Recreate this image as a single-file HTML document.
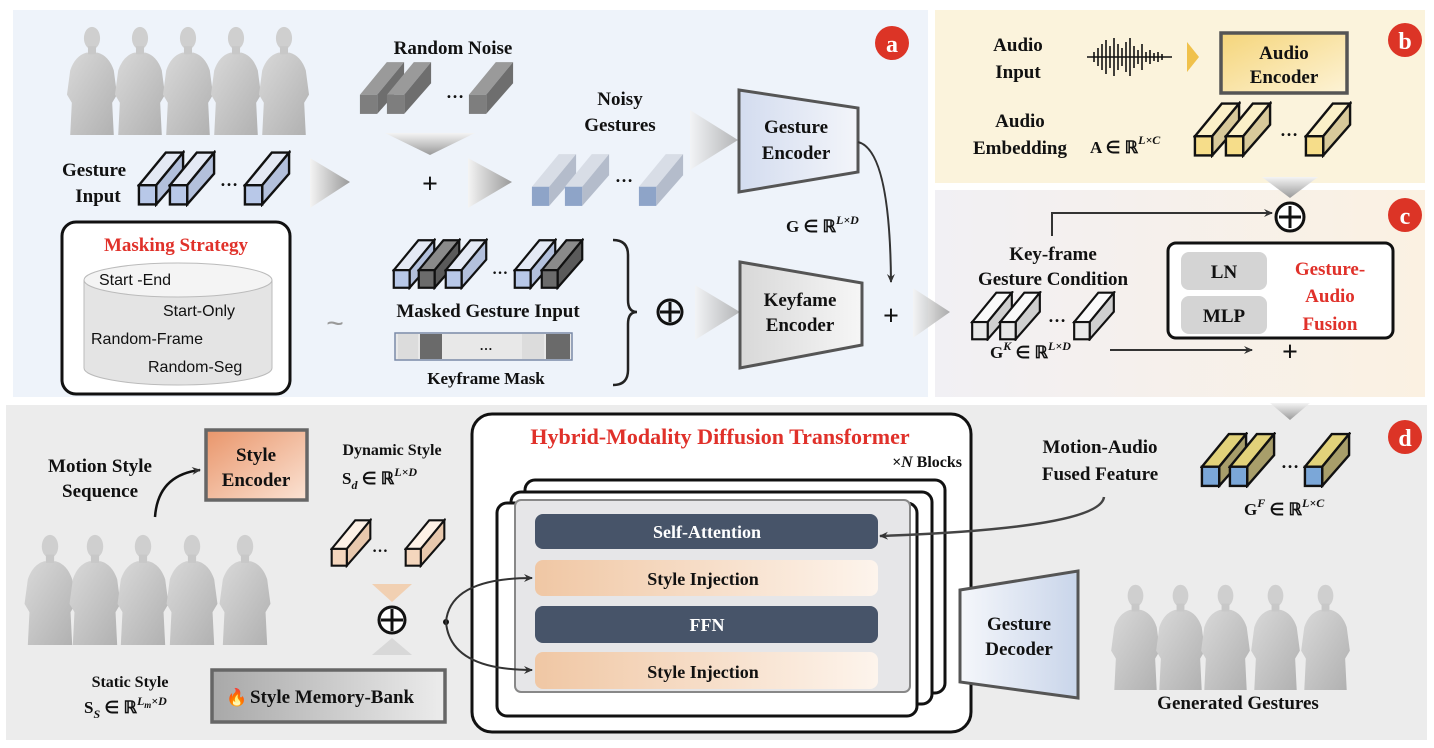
<!DOCTYPE html>
<html><head><meta charset="utf-8"><style>
html,body{margin:0;padding:0;background:#fff;}
svg{display:block;}
.t{font-family:"Liberation Serif",serif;font-weight:bold;fill:#111;}
.s{font-family:"Liberation Sans",sans-serif;fill:#111;}
.r{fill:#e0312a;}
</style></head><body>
<svg width="1434" height="748" viewBox="0 0 1434 748" xmlns="http://www.w3.org/2000/svg">
<defs>
<linearGradient id="figg" x1="0" y1="0" x2="1" y2="1"><stop offset="0" stop-color="#d9d9d9"/><stop offset="1" stop-color="#b0b0b0"/></linearGradient>
<linearGradient id="cg" x1="0" y1="0" x2="1" y2="0"><stop offset="0" stop-color="#f1f0f4"/><stop offset="1" stop-color="#fbf1e2"/></linearGradient>
<linearGradient id="ora" x1="0" y1="0" x2="1" y2="0"><stop offset="0" stop-color="#f0c7a4"/><stop offset="1" stop-color="#fdf4ec"/></linearGradient>
<linearGradient id="senc" x1="0" y1="0" x2="1" y2="1"><stop offset="0" stop-color="#e9956a"/><stop offset="1" stop-color="#fbe3d4"/></linearGradient>
<linearGradient id="aenc" x1="0" y1="0" x2="1" y2="1"><stop offset="0" stop-color="#f5d57a"/><stop offset="1" stop-color="#fdf3d6"/></linearGradient>
<linearGradient id="mem" x1="0" y1="0" x2="1" y2="0"><stop offset="0" stop-color="#a8a8a8"/><stop offset="1" stop-color="#ececec"/></linearGradient>
<linearGradient id="genc" x1="0" y1="0" x2="1" y2="0"><stop offset="0" stop-color="#d3dcef"/><stop offset="1" stop-color="#f3f5fa"/></linearGradient>
<linearGradient id="kenc" x1="0" y1="0" x2="1" y2="0"><stop offset="0" stop-color="#d8d8d8"/><stop offset="1" stop-color="#f6f6f6"/></linearGradient>
<linearGradient id="dec" x1="0" y1="0" x2="1" y2="0"><stop offset="0" stop-color="#f5f7fb"/><stop offset="1" stop-color="#c9d5ea"/></linearGradient>
<linearGradient id="tri" x1="0" y1="0" x2="1" y2="0"><stop offset="0" stop-color="#f4f4f4"/><stop offset="1" stop-color="#9a9a9a"/></linearGradient>
<linearGradient id="trid" x1="0" y1="0" x2="0" y2="1"><stop offset="0" stop-color="#f4f4f4"/><stop offset="1" stop-color="#9a9a9a"/></linearGradient>
<symbol id="fig" viewBox="0 0 70 140">
<path d="M8 140 L10 100 L4 90 L8 60 Q14 42 28 38 L42 38 Q56 42 62 60 L66 90 L60 100 L62 140 Z" fill="url(#figg)"/>
<ellipse cx="35" cy="20" rx="10" ry="14" fill="#cfcfcf"/>
<rect x="30" y="30" width="10" height="10" fill="#c8c8c8"/>
</symbol>
<symbol id="cBlue" viewBox="0 0 50 58"><path d="M2 36 L30 2 L48 2 L20 36Z" fill="#e4e9f4" stroke="#111" stroke-width="2.5"/><path d="M20 36 L48 2 L48 24 L20 56Z" fill="#b3c0dc" stroke="#111" stroke-width="2.5"/><rect x="2" y="36" width="18" height="20" fill="#b8c8e8" stroke="#111" stroke-width="2.5"/></symbol>
<symbol id="cDark" viewBox="0 0 50 58"><path d="M2 36 L30 2 L48 2 L20 36Z" fill="#8a8a8a" stroke="#111" stroke-width="2.5"/><path d="M20 36 L48 2 L48 24 L20 56Z" fill="#5a5a5a" stroke="#111" stroke-width="2.5"/><rect x="2" y="36" width="18" height="20" fill="#6b6b6b" stroke="#111" stroke-width="2.5"/></symbol>
<symbol id="cYel" viewBox="0 0 50 58"><path d="M2 36 L30 2 L48 2 L20 36Z" fill="#fbf0c8" stroke="#111" stroke-width="2.5"/><path d="M20 36 L48 2 L48 24 L20 56Z" fill="#d8c99a" stroke="#111" stroke-width="2.5"/><rect x="2" y="36" width="18" height="20" fill="#f6dd8a" stroke="#111" stroke-width="2.5"/></symbol>
<symbol id="cWhite" viewBox="0 0 50 58"><path d="M2 36 L30 2 L48 2 L20 36Z" fill="#fafafa" stroke="#111" stroke-width="2.5"/><path d="M20 36 L48 2 L48 24 L20 56Z" fill="#cfcfcf" stroke="#111" stroke-width="2.5"/><rect x="2" y="36" width="18" height="20" fill="#e8e8e8" stroke="#111" stroke-width="2.5"/></symbol>
<symbol id="cOra" viewBox="0 0 50 58"><path d="M2 36 L30 2 L48 2 L20 36Z" fill="#fdf1e6" stroke="#111" stroke-width="2.5"/><path d="M20 36 L48 2 L48 24 L20 56Z" fill="#e8c8ad" stroke="#111" stroke-width="2.5"/><rect x="2" y="36" width="18" height="20" fill="#f4d6bd" stroke="#111" stroke-width="2.5"/></symbol>
<symbol id="cFus" viewBox="0 0 50 58"><path d="M2 36 L30 2 L48 2 L20 36Z" fill="#e2d27a" stroke="#111" stroke-width="2.5"/><path d="M20 36 L48 2 L48 24 L20 56Z" fill="#a89e6a" stroke="#111" stroke-width="2.5"/><rect x="2" y="36" width="18" height="20" fill="#7ba7d8" stroke="#111" stroke-width="2.5"/></symbol>
<symbol id="cNoise" viewBox="0 0 50 58"><path d="M2 36 L30 2 L48 2 L20 36Z" fill="#9a9a9a"/><path d="M20 36 L48 2 L48 24 L20 56Z" fill="#6e6e6e"/><rect x="2" y="36" width="18" height="20" fill="#7e7e7e"/></symbol>
<symbol id="cNoisy" viewBox="0 0 50 58"><path d="M2 36 L30 2 L48 2 L20 36Z" fill="#d8dde6"/><path d="M20 36 L48 2 L48 24 L20 56Z" fill="#b4bccb"/><rect x="2" y="36" width="18" height="20" fill="#8ea4c8"/></symbol>
<marker id="ah" markerWidth="10" markerHeight="10" refX="8" refY="5" orient="auto" markerUnits="userSpaceOnUse"><path d="M0 1 L9 5 L0 9 L3 5Z" fill="#333"/></marker>
</defs>

<rect x="13" y="10" width="915" height="387" fill="#eef3fa"/>
<rect x="935" y="10" width="490" height="173" fill="#fbf3dc"/>
<rect x="935" y="190" width="490" height="207" fill="url(#cg)"/>
<rect x="6" y="405" width="1421" height="335" fill="#ececec"/>

<circle cx="892" cy="43" r="17" fill="#dc3426"/><text x="892" y="52" text-anchor="middle" class="t" style="fill:#fff;font-size:24px">a</text>
<circle cx="1405" cy="40" r="17" fill="#dc3426"/><text x="1405" y="49" text-anchor="middle" class="t" style="fill:#fff;font-size:24px">b</text>
<circle cx="1405" cy="215" r="17" fill="#dc3426"/><text x="1405" y="224" text-anchor="middle" class="t" style="fill:#fff;font-size:24px">c</text>
<circle cx="1405" cy="437" r="17" fill="#dc3426"/><text x="1405" y="446" text-anchor="middle" class="t" style="fill:#fff;font-size:24px">d</text>

<use href="#fig" x="62" y="22" width="60" height="113"/>
<use href="#fig" x="110" y="22" width="60" height="113"/>
<use href="#fig" x="158" y="22" width="60" height="113"/>
<use href="#fig" x="206" y="22" width="60" height="113"/>
<use href="#fig" x="254" y="22" width="60" height="113"/>

<text x="453" y="54" text-anchor="middle" class="t" style="font-size:19px">Random Noise</text>
<use href="#cNoise" x="358" y="60" width="48" height="56"/>
<use href="#cNoise" x="385" y="60" width="48" height="56"/>
<text x="446" y="98" class="t" style="font-size:18px">…</text>
<use href="#cNoise" x="467" y="60" width="48" height="56"/>
<path d="M385 133 L475 133 L430 155Z" fill="url(#trid)"/>

<text x="94" y="176" text-anchor="middle" class="t" style="font-size:19px">Gesture</text>
<text x="98" y="202" text-anchor="middle" class="t" style="font-size:19px">Input</text>
<use href="#cBlue" x="137" y="150" width="48" height="57"/>
<use href="#cBlue" x="168" y="150" width="48" height="57"/>
<text x="220" y="186" class="t" style="font-size:18px">…</text>
<use href="#cBlue" x="243" y="150" width="48" height="57"/>

<path d="M310 158 L350 182 L310 208Z" fill="url(#tri)"/>
<text x="430" y="193" text-anchor="middle" class="t" style="font-size:28px">+</text>
<path d="M468 158 L512 182 L468 208Z" fill="url(#tri)"/>

<text x="620" y="105" text-anchor="middle" class="t" style="font-size:19px">Noisy</text>
<text x="620" y="131" text-anchor="middle" class="t" style="font-size:19px">Gestures</text>
<use href="#cNoisy" x="530" y="152" width="48" height="56"/>
<use href="#cNoisy" x="563" y="152" width="48" height="56"/>
<text x="615" y="182" class="t" style="font-size:18px">…</text>
<use href="#cNoisy" x="637" y="152" width="48" height="56"/>
<path d="M690 110 L738 140 L690 170Z" fill="url(#tri)" opacity="0.7"/>

<path d="M739 90 L858 108 L858 172 L739 192Z" fill="url(#genc)" stroke="#555" stroke-width="3"/>
<text x="796" y="133" text-anchor="middle" class="t" style="font-size:19px">Gesture</text>
<text x="796" y="159" text-anchor="middle" class="t" style="font-size:19px">Encoder</text>
<path d="M858 142 Q890 150 891 282" fill="none" stroke="#333" stroke-width="2" marker-end="url(#ah)"/>
<text x="786" y="232" class="t" style="font-size:17px">G ∈ ℝ<tspan dy="-8" font-size="12" font-style="italic">L×D</tspan></text>

<rect x="62" y="222" width="228" height="172" rx="14" fill="#fff" stroke="#111" stroke-width="3"/>
<text x="176" y="251" text-anchor="middle" class="t r" style="font-size:19px">Masking Strategy</text>
<path d="M84 280 L84 368 A94 17 0 0 0 272 368 L272 280" fill="#e4e4e4" stroke="#bbb"/>
<ellipse cx="178" cy="280" rx="94" ry="17" fill="#f4f4f4" stroke="#bbb"/>
<text x="99" y="285" class="s" style="font-size:16px">Start -End</text>
<text x="163" y="316" class="s" style="font-size:16px">Start-Only</text>
<text x="91" y="344" class="s" style="font-size:16px">Random-Frame</text>
<text x="148" y="372" class="s" style="font-size:16px">Random-Seg</text>
<text x="335" y="333" text-anchor="middle" class="s" style="font-size:30px;fill:#999">~</text>

<use href="#cBlue" x="392" y="238" width="44" height="52"/>
<use href="#cDark" x="417" y="238" width="44" height="52"/>
<use href="#cBlue" x="444" y="238" width="44" height="52"/>
<text x="492" y="274" class="t" style="font-size:16px">…</text>
<use href="#cBlue" x="513" y="238" width="44" height="52"/>
<use href="#cDark" x="540" y="238" width="44" height="52"/>
<text x="488" y="317" text-anchor="middle" class="t" style="font-size:19px">Masked Gesture Input</text>
<rect x="395" y="333" width="177" height="27" fill="#e8e8e8" stroke="#7a8aa8" stroke-width="1.5"/>
<rect x="420" y="334" width="22" height="25" fill="#6a6a6a"/>
<rect x="398" y="334" width="20" height="25" fill="#dcdcdc"/>
<rect x="522" y="334" width="22" height="25" fill="#dcdcdc"/>
<rect x="546" y="334" width="24" height="25" fill="#6a6a6a"/>
<text x="486" y="350" text-anchor="middle" class="t" style="font-size:13px">…</text>
<text x="486" y="384" text-anchor="middle" class="t" style="font-size:17px">Keyframe Mask</text>
<path d="M613 240 Q628 240 628 255 L628 300 Q628 312 637 312 Q628 312 628 324 L628 370 Q628 385 613 385" fill="none" stroke="#222" stroke-width="2.5"/>
<circle cx="670" cy="312" r="12" fill="none" stroke="#111" stroke-width="3"/>
<path d="M670 302 V322 M660 312 H680" stroke="#111" stroke-width="3"/>
<path d="M695 285 L740 312 L695 340Z" fill="url(#tri)" opacity="0.7"/>
<path d="M740 262 L862 283 L862 345 L740 368Z" fill="url(#kenc)" stroke="#555" stroke-width="3"/>
<text x="800" y="306" text-anchor="middle" class="t" style="font-size:19px">Keyfame</text>
<text x="800" y="331" text-anchor="middle" class="t" style="font-size:19px">Encoder</text>
<text x="891" y="325" text-anchor="middle" class="t" style="font-size:28px">+</text>
<path d="M913 288 L950 312 L913 338Z" fill="url(#tri)" opacity="0.8"/>

<text x="1018" y="51" text-anchor="middle" class="t" style="font-size:19px">Audio</text>
<text x="1018" y="78" text-anchor="middle" class="t" style="font-size:19px">Input</text>
<g stroke="#111" stroke-width="1.6">
<path d="M1087 57 H1172"/>
<path d="M1094 52 V62 M1098 48 V66 M1102 44 V70 M1106 40 V74 M1110 46 V68 M1114 38 V76 M1118 44 V70 M1122 48 V66 M1126 42 V72 M1130 38 V76 M1134 46 V68 M1138 50 V64 M1142 44 V70 M1146 52 V62 M1150 50 V64 M1154 53 V61 M1158 52 V62 M1162 54 V60"/>
</g>
<path d="M1187 42 L1199 57 L1187 72Z" fill="#f0c14b"/>
<rect x="1221" y="33" width="126" height="60" fill="url(#aenc)" stroke="#555" stroke-width="3.5"/>
<text x="1284" y="59" text-anchor="middle" class="t" style="font-size:19px">Audio</text>
<text x="1284" y="83" text-anchor="middle" class="t" style="font-size:19px">Encoder</text>
<text x="1020" y="127" text-anchor="middle" class="t" style="font-size:19px">Audio</text>
<text x="1020" y="154" text-anchor="middle" class="t" style="font-size:19px">Embedding</text>
<text x="1090" y="153" class="t" style="font-size:17px">A ∈ ℝ<tspan dy="-9" font-size="12" font-style="italic">L×C</tspan></text>
<use href="#cYel" x="1193" y="101" width="48" height="57"/>
<use href="#cYel" x="1224" y="101" width="48" height="57"/>
<text x="1280" y="136" class="t" style="font-size:18px">…</text>
<use href="#cYel" x="1304" y="101" width="48" height="57"/>
<path d="M1262 177 L1318 177 L1290 198Z" fill="url(#trid)"/>

<circle cx="1290" cy="217" r="14" fill="#fff" stroke="#111" stroke-width="3"/>
<path d="M1290 206 V228 M1279 217 H1301" stroke="#111" stroke-width="3"/>
<path d="M1052 236 V213 H1272" fill="none" stroke="#333" stroke-width="2" marker-end="url(#ah)"/>
<text x="1053" y="260" text-anchor="middle" class="t" style="font-size:19px">Key-frame</text>
<text x="1053" y="285" text-anchor="middle" class="t" style="font-size:19px">Gesture Condition</text>
<use href="#cWhite" x="970" y="291" width="44" height="50"/>
<use href="#cWhite" x="998" y="291" width="44" height="50"/>
<text x="1048" y="322" class="t" style="font-size:18px">…</text>
<use href="#cWhite" x="1072" y="291" width="44" height="50"/>
<text x="990" y="358" class="t" style="font-size:17px">G<tspan dy="-8" font-size="12" font-style="italic">K</tspan><tspan dy="8"> ∈ ℝ</tspan><tspan dy="-8" font-size="12" font-style="italic">L×D</tspan></text>
<path d="M1110 350 H1252" stroke="#333" stroke-width="2" marker-end="url(#ah)"/>
<text x="1290" y="361" text-anchor="middle" class="t" style="font-size:28px">+</text>
<rect x="1168" y="243" width="225" height="95" rx="8" fill="#fff" stroke="#111" stroke-width="3"/>
<rect x="1181" y="252" width="86" height="38" rx="8" fill="#d4d4d4"/>
<text x="1224" y="278" text-anchor="middle" class="t" style="font-size:19px">LN</text>
<rect x="1181" y="296" width="86" height="38" rx="8" fill="#d4d4d4"/>
<text x="1224" y="322" text-anchor="middle" class="t" style="font-size:19px">MLP</text>
<text x="1330" y="275" text-anchor="middle" class="t r" style="font-size:19px">Gesture-</text>
<text x="1330" y="302" text-anchor="middle" class="t r" style="font-size:19px">Audio</text>
<text x="1330" y="330" text-anchor="middle" class="t r" style="font-size:19px">Fusion</text>
<path d="M1270 403 L1310 403 L1290 420Z" fill="url(#trid)"/>

<rect x="206" y="430" width="101" height="70" fill="url(#senc)" stroke="#666" stroke-width="3.5"/>
<text x="256" y="461" text-anchor="middle" class="t" style="font-size:19px">Style</text>
<text x="256" y="486" text-anchor="middle" class="t" style="font-size:19px">Encoder</text>
<text x="100" y="472" text-anchor="middle" class="t" style="font-size:19px">Motion Style</text>
<text x="100" y="497" text-anchor="middle" class="t" style="font-size:19px">Sequence</text>
<path d="M155 517 Q158 475 200 470" fill="none" stroke="#111" stroke-width="2.5" marker-end="url(#ah)"/>
<text x="392" y="455" text-anchor="middle" class="t" style="font-size:16px">Dynamic Style</text>
<text x="342" y="484" class="t" style="font-size:17px">S<tspan dy="5" font-size="12" font-style="italic">d</tspan><tspan dy="-5"> ∈ ℝ</tspan><tspan dy="-8" font-size="12" font-style="italic">L×D</tspan></text>
<use href="#fig" x="20" y="530" width="60" height="115"/>
<use href="#fig" x="65" y="530" width="60" height="115"/>
<use href="#fig" x="113" y="530" width="60" height="115"/>
<use href="#fig" x="162" y="530" width="60" height="115"/>
<use href="#fig" x="215" y="530" width="60" height="115"/>
<use href="#cOra" x="330" y="518" width="42" height="50"/>
<text x="372" y="552" class="t" style="font-size:16px">…</text>
<use href="#cOra" x="404" y="518" width="42" height="50"/>
<path d="M372 584 L412 584 L392 602Z" fill="#f2c9a4" opacity="0.8"/>
<path d="M372 655 L412 655 L392 638Z" fill="#d8d8d8"/>
<circle cx="392" cy="620" r="13" fill="#fff" stroke="#111" stroke-width="3"/>
<path d="M392 609 V631 M381 620 H403" stroke="#111" stroke-width="3"/>
<text x="130" y="687" text-anchor="middle" class="t" style="font-size:16px">Static Style</text>
<text x="84" y="713" class="t" style="font-size:17px">S<tspan dy="5" font-size="12" font-style="italic">S</tspan><tspan dy="-5"> ∈ ℝ</tspan><tspan dy="-8" font-size="12" font-style="italic">L</tspan><tspan dy="3" font-size="9" font-style="italic">m</tspan><tspan dy="-3" font-size="12" font-style="italic">×D</tspan></text>
<rect x="212" y="670" width="233" height="52" fill="url(#mem)" stroke="#666" stroke-width="3.5"/>
<text x="226" y="703" class="s" style="font-size:17px;fill:#e8562a">🔥</text>
<text x="250" y="703" class="t" style="font-size:19px">Style Memory-Bank</text>

<rect x="472" y="414" width="499" height="318" rx="20" fill="#fff" stroke="#111" stroke-width="3"/>
<text x="720" y="444" text-anchor="middle" class="t r" style="font-size:22px">Hybrid-Modality Diffusion Transformer</text>
<text x="962" y="467" text-anchor="end" class="t" style="font-size:16px"><tspan font-style="italic">×N</tspan> Blocks</text>
<rect x="525" y="480" width="420" height="213" rx="10" fill="#fff" stroke="#111" stroke-width="3"/>
<rect x="511" y="492" width="421" height="212" rx="10" fill="#fff" stroke="#111" stroke-width="3"/>
<rect x="497" y="503" width="420" height="213" rx="10" fill="#fff" stroke="#111" stroke-width="3"/>
<rect x="515" y="500" width="395" height="192" rx="6" fill="#e6e6e8" stroke="#888" stroke-width="2"/>
<rect x="535" y="514" width="343" height="35" rx="8" fill="#475469"/>
<text x="707" y="538" text-anchor="middle" class="t" style="font-size:18px;fill:#fff">Self-Attention</text>
<rect x="535" y="560" width="343" height="36" rx="8" fill="url(#ora)"/>
<text x="703" y="585" text-anchor="middle" class="t" style="font-size:18px">Style Injection</text>
<rect x="535" y="606" width="343" height="37" rx="8" fill="#475469"/>
<text x="707" y="631" text-anchor="middle" class="t" style="font-size:18px;fill:#fff">FFN</text>
<rect x="535" y="652" width="343" height="37" rx="8" fill="url(#ora)"/>
<text x="703" y="678" text-anchor="middle" class="t" style="font-size:18px">Style Injection</text>

<circle cx="446" cy="622" r="3" fill="#111"/>
<path d="M446 622 Q450 578 532 578" fill="none" stroke="#333" stroke-width="2" marker-end="url(#ah)"/>
<path d="M446 622 Q450 670 532 670" fill="none" stroke="#333" stroke-width="2" marker-end="url(#ah)"/>

<path d="M960 590 L1078 571 L1078 698 L960 682Z" fill="url(#dec)" stroke="#555" stroke-width="3"/>
<text x="1019" y="630" text-anchor="middle" class="t" style="font-size:19px">Gesture</text>
<text x="1019" y="655" text-anchor="middle" class="t" style="font-size:19px">Decoder</text>

<text x="1100" y="453" text-anchor="middle" class="t" style="font-size:19px">Motion-Audio</text>
<text x="1100" y="480" text-anchor="middle" class="t" style="font-size:19px">Fused Feature</text>
<path d="M1104 497 Q1100 528 880 536" fill="none" stroke="#444" stroke-width="2.5" marker-end="url(#ah)"/>
<use href="#cFus" x="1200" y="432" width="48" height="56"/>
<use href="#cFus" x="1228" y="432" width="48" height="56"/>
<text x="1281" y="468" class="t" style="font-size:18px">…</text>
<use href="#cFus" x="1303" y="432" width="48" height="56"/>
<text x="1244" y="515" class="t" style="font-size:17px">G<tspan dy="-8" font-size="12" font-style="italic">F</tspan><tspan dy="8"> ∈ ℝ</tspan><tspan dy="-8" font-size="12" font-style="italic">L×C</tspan></text>
<use href="#fig" x="1108" y="580" width="55" height="110"/>
<use href="#fig" x="1153" y="580" width="55" height="110"/>
<use href="#fig" x="1198" y="580" width="55" height="110"/>
<use href="#fig" x="1248" y="580" width="55" height="110"/>
<use href="#fig" x="1298" y="580" width="55" height="110"/>
<text x="1238" y="709" text-anchor="middle" class="t" style="font-size:19px">Generated Gestures</text>
</svg>
</body></html>
